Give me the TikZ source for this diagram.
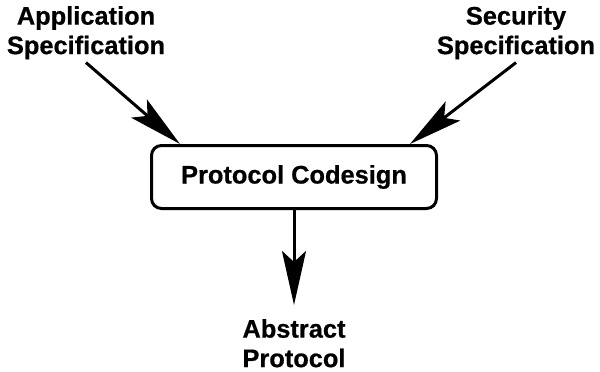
\documentclass[tikz,border=0pt]{standalone}
\usepackage{fontspec}
\setmainfont{Liberation Sans}[BoldFeatures={FakeBold=0.6}]
\usetikzlibrary{arrows.meta}
\begin{document}
\begin{tikzpicture}[x=1pt,y=-1pt,
  label/.style={font=\bfseries\fontsize{25.4}{29.5}\selectfont, align=center, inner sep=0pt},
  process/.style={draw, line width=3pt, rounded corners=10pt, minimum width=285pt, minimum height=63pt,
    font=\bfseries\fontsize{25.4}{29.5}\selectfont, inner sep=0pt},
  flow/.style={line width=3pt, -{Stealth[length=54pt, width=24pt, inset=11pt]}}]
  \useasboundingbox (0,0) rectangle (600,372);

  \node[label, anchor=north] (app) at (86,6) {Application\\Specification};
  \node[label, anchor=north] (sec) at (516,6) {Security\\Specification};
  \node[process] (code) at (294,177) {Protocol Codesign};
  \node[label, anchor=north] (abs) at (294,319) {Abstract\\Protocol};

  \draw[flow] ([yshift=-3pt]app.south) -- ([xshift=30pt]code.north west);
  \draw[flow] ([yshift=-3pt]sec.south) -- ([xshift=-28pt]code.north east);
  \draw[flow] (code.south) -- ([yshift=14pt]abs.north);
\end{tikzpicture}
\end{document}
